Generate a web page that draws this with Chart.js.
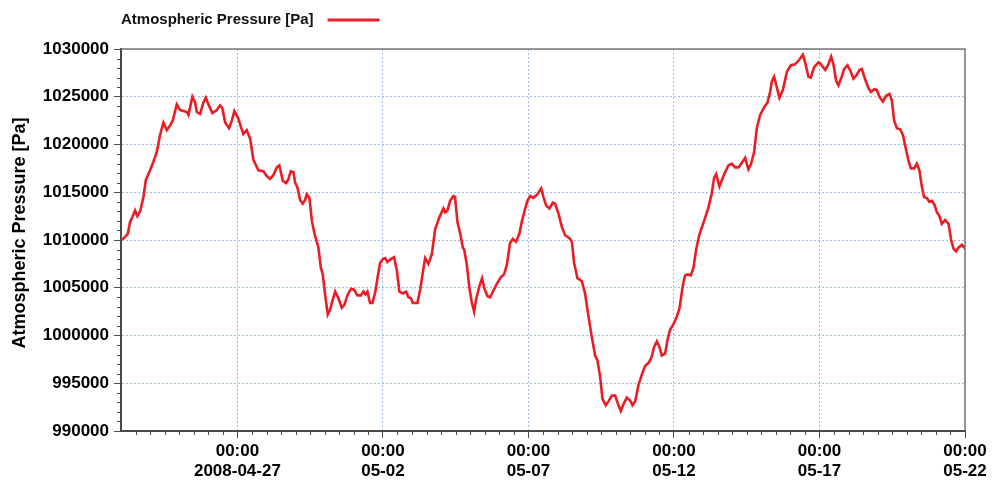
<!DOCTYPE html>
<html>
<head>
<meta charset="utf-8">
<script src="https://cdn.jsdelivr.net/npm/chart.js@4/dist/chart.umd.min.js"></script>
<style>
  html, body { margin: 0; padding: 0; background: #ffffff; }
  #wrap { width: 993px; height: 481px; }
</style>
</head>
<body>
<div id="wrap"><canvas id="c" width="993" height="481"></canvas></div>
<script>
// Hours elapsed since 2008-04-23 00:00
const hours = [
  0, 2, 5.6, 7.5, 9.4, 11.6, 13.5, 15.8, 18.5, 20.5, 24.0, 26.7, 29.5, 32.2, 35.0, 37.8, 40.5, 42.7,
  46.0, 48.7, 51.5, 54.3, 55.6, 58.9, 61.1, 62.5, 65.2, 68.0, 69.9, 72.1, 75.4, 79.0, 81.7, 83.6,
  85.9, 89.1, 91.4, 93.5, 96.8, 99.0, 100.9, 103.7, 106.5, 109.2, 113.3, 117.4, 120.2, 123.0, 125.7,
  128.5, 130.6, 133.4, 136.2, 138.1, 140.0, 142.2, 143.6, 145.5, 147.7, 149.9, 151.8, 153.2, 155.4,
  157.4, 159.5, 162.8, 164.8, 166.4, 168.3, 170.5, 172.4, 173.8, 176.6, 179.3, 182.1, 184.2, 187.0,
  189.8, 192.2, 195.0, 197.8, 199.9, 201.6, 203.2, 205.4, 207.3, 209.6, 211.5, 213.7, 215.9, 217.8,
  219.7, 222.5, 225.2, 227.5, 229.6, 232.4, 235.1, 237.0, 239.2, 240.6, 242.5, 244.4, 246.7, 248.9,
  250.8, 253.5, 256.3, 259.0, 262.6, 265.9, 267.3, 269.2, 271.4, 274.1, 275.5, 277.4, 279.7, 281.9,
  283.0, 285.2, 287.3, 289.3, 291.2, 292.9, 295.6, 297.8, 299.7, 302.2, 304.4, 307.1, 309.9, 313.2,
  315.9, 318.2, 320.9, 323.1, 325.8, 328.6, 330.5, 333.3, 335.2, 337.4, 340.1, 343.4, 346.5, 348.4,
  350.6, 353.3, 356.1, 358.0, 360.7, 363.5, 366.2, 369.8, 371.8, 373.7, 376.4, 380.0, 382.7, 385.5,
  388.3, 391.0, 392.9, 395.1, 397.0, 399.8, 402.0, 404.8, 407.5, 410.2, 412.2, 414.3, 417.1, 419.9,
  421.8, 424.0, 426.7, 429.5, 432.2, 435.5, 437.7, 439.6, 441.9, 444.0, 446.0, 448.7, 450.6, 452.8,
  455.6, 457.8, 460.5, 463.3, 465.2, 467.1, 469.9, 472.1, 474.3, 477.0, 480.3, 484.4, 487.2, 489.1,
  490.8, 493.5, 496.8, 500.9, 503.7, 506.4, 509.2, 512.0, 514.7, 517.4, 519.4, 522.1, 524.3, 527.1,
  530.4, 533.1, 535.3, 536.7, 538.6, 540.8, 543.0, 545.8, 549.1, 552.4, 555.9, 559.5, 562.3, 564.2,
  566.9, 568.9, 571.6, 575.2, 576.5, 580.7, 583.4, 585.6, 587.5, 589.7, 591.6, 594.4, 596.3, 599.1,
  601.9, 604.0, 606.2, 609.0, 610.9, 613.7, 616.4, 618.4, 621.1, 623.3, 625.5, 628.3, 631.0, 633.7,
  635.7, 637.6, 639.8, 642.5, 644.8, 647.5, 649.4, 651.4, 654.1, 656.3, 658.4, 660.4, 662.3, 664.5,
  666.7, 668.7, 670.8, 672.8, 674.9, 676.9, 679.6, 682.4, 684.6, 686.5, 688.7, 690.6, 693.4, 696
];

// Atmospheric pressure [Pa]
const pressure = [
  1010000, 1010150, 1010650, 1011900, 1012400, 1013100, 1012500, 1013000, 1014500, 1016300, 1017300,
  1018200, 1019200, 1021000, 1022300, 1021500, 1022000, 1022500, 1024200, 1023600, 1023500, 1023400,
  1023100, 1025000, 1024400, 1023400, 1023200, 1024400, 1024900, 1024200, 1023300, 1023600, 1024100,
  1023800, 1022300, 1021700, 1022500, 1023500, 1022700, 1021800, 1021100, 1021500, 1020600, 1018400,
  1017300, 1017200, 1016700, 1016400, 1016800, 1017600, 1017800, 1016200, 1015950, 1016400, 1017200,
  1017100, 1016000, 1015500, 1014200, 1013800, 1014200, 1014800, 1014400, 1012000, 1010700, 1009200,
  1007100, 1006400, 1004300, 1002200, 1002700, 1003400, 1004600, 1003900, 1002900, 1003200, 1004300,
  1004900, 1004800, 1004200, 1004200, 1004600, 1004300, 1004600, 1003400, 1003400, 1004500, 1006000,
  1007600, 1008000, 1008100, 1007700, 1008000, 1008200, 1006800, 1004600, 1004400, 1004600, 1004000,
  1003900, 1003400, 1003400, 1003400, 1004800, 1006600, 1008100, 1007500, 1008500, 1011100, 1012400,
  1013300, 1012900, 1013100, 1014100, 1014600, 1014500, 1011900, 1010700, 1009200, 1009000, 1007400,
  1005000, 1003450, 1002500, 1003800, 1005200, 1006000, 1004900, 1004100, 1004000, 1004700, 1005400,
  1006100, 1006400, 1007400, 1009700, 1010100, 1009800, 1010700, 1011900, 1013300, 1014100, 1014600,
  1014400, 1014800, 1015400, 1014500, 1013600, 1013300, 1013900, 1013800, 1012800, 1011400, 1010500,
  1010200, 1009800, 1007600, 1006000, 1005700, 1004400, 1002000, 999800, 997900, 997400, 995700,
  993400, 992700, 993100, 993700, 993700, 992700, 992100, 992800, 993500, 993200, 992700, 993100,
  994800, 995900, 996800, 997200, 997800, 998800, 999400, 998800, 997900, 998100, 999500, 1000600,
  1001200, 1001800, 1002800, 1005200, 1006300, 1006400, 1006300, 1007100, 1009000, 1010600, 1011800,
  1013400, 1014900, 1016500, 1016900, 1015600, 1016700, 1017800, 1018000, 1017600, 1017600, 1018100,
  1018600, 1017400, 1017900, 1019200, 1021700, 1023100, 1023900, 1024400, 1025500, 1026600, 1027100,
  1026000, 1024900, 1025700, 1027600, 1028300, 1028400, 1028900, 1029400, 1028600, 1027100, 1027000,
  1028100, 1028600, 1028500, 1027800, 1028400, 1029200, 1028400, 1026700, 1026200, 1027100, 1027900,
  1028300, 1027600, 1026900, 1027200, 1027800, 1027900, 1026800, 1025900, 1025500, 1025800, 1025700,
  1025000, 1024500, 1025100, 1025300, 1024600, 1022500, 1021700, 1021600, 1021000, 1019400, 1018300,
  1017500, 1017500, 1018000, 1017300, 1015600, 1014500, 1014400, 1014000, 1014100, 1013700, 1012900,
  1012500, 1011700, 1012100, 1011700, 1010000, 1009100, 1008800, 1009200, 1009500, 1009100
];

// Major time ticks (hours since start) and their two-line labels
const timeTicks = [96, 216, 336, 456, 576, 696];
const timeLabels = [
  ['00:00', '2008-04-27'],
  ['00:00', '05-02'],
  ['00:00', '05-07'],
  ['00:00', '05-12'],
  ['00:00', '05-17'],
  ['00:00', '05-22']
];

const seriesLabel = 'Atmospheric Pressure [Pa]';
const axisTitle = 'Atmospheric Pressure [Pa]';

const RED = '#ec1c24';
const AXIS = '#4a4a4a';
const GRID = '#9dbbe0';
const FONT = "'Liberation Sans', Arial, sans-serif";

const points = hours.map((h, i) => ({ x: h, y: pressure[i] }));

// Frame, minor ticks, axis title and legend entry
const decor = {
  id: 'decor',
  afterDraw(chart) {
    const { ctx, chartArea: a, scales } = chart;
    const xs = scales.x, ys = scales.y;
    ctx.save();
    // top and right frame
    ctx.strokeStyle = '#777777';
    ctx.lineWidth = 1.5;
    ctx.beginPath();
    ctx.moveTo(a.left, a.top);
    ctx.lineTo(a.right, a.top);
    ctx.lineTo(a.right, a.bottom);
    ctx.stroke();
    // minor ticks
    ctx.strokeStyle = AXIS;
    ctx.lineWidth = 1;
    ctx.beginPath();
    for (let h = 12; h < xs.max; h += 12) {
      if (timeTicks.includes(h)) continue;
      const px = Math.round(xs.getPixelForValue(h)) + 0.5;
      ctx.moveTo(px, a.bottom);
      ctx.lineTo(px, a.bottom + 4);
    }
    for (let v = ys.min + 1000; v < ys.max; v += 1000) {
      if (v % 5000 === 0) continue;
      const py = Math.round(ys.getPixelForValue(v)) + 0.5;
      ctx.moveTo(a.left - 4, py);
      ctx.lineTo(a.left, py);
    }
    ctx.stroke();
    // y-axis title
    ctx.save();
    ctx.translate(20, 233);
    ctx.rotate(-Math.PI / 2);
    ctx.font = 'bold 18px ' + FONT;
    ctx.fillStyle = '#000000';
    ctx.textAlign = 'center';
    ctx.textBaseline = 'middle';
    ctx.fillText(axisTitle, 0, 0);
    ctx.restore();
    // legend entry: label then line sample
    const ds = chart.data.datasets[0];
    ctx.font = 'bold 15px ' + FONT;
    ctx.fillStyle = '#111111';
    ctx.textAlign = 'left';
    ctx.textBaseline = 'middle';
    ctx.fillText(ds.label, 121, 20);
    const w = ctx.measureText(ds.label).width;
    ctx.strokeStyle = ds.borderColor;
    ctx.lineWidth = 3;
    ctx.beginPath();
    ctx.moveTo(121 + w + 14, 20);
    ctx.lineTo(121 + w + 66, 20);
    ctx.stroke();
    ctx.restore();
  }
};

new Chart(document.getElementById('c'), {
  type: 'line',
  data: {
    datasets: [{
      label: seriesLabel,
      data: points,
      borderColor: RED,
      backgroundColor: RED,
      borderWidth: 2.6,
      pointRadius: 0,
      tension: 0,
      fill: false
    }]
  },
  options: {
    responsive: false,
    animation: false,
    parsing: false,
    layout: { padding: { left: 0, top: 49, right: 28, bottom: 0 } },
    plugins: {
      legend: { display: false },
      tooltip: { enabled: false }
    },
    scales: {
      x: {
        type: 'linear',
        min: 0,
        max: 696,
        afterBuildTicks(scale) {
          scale.ticks = timeTicks.map(v => ({ value: v }));
        },
        afterFit(scale) { scale.height = 50; },
        ticks: {
          autoSkip: false,
          maxRotation: 0,
          padding: 3,
          color: '#000000',
          font: { family: FONT, size: 17, weight: 'bold', lineHeight: 1.2 },
          callback(value) {
            const i = timeTicks.indexOf(value);
            return i >= 0 ? timeLabels[i] : '';
          }
        },
        grid: {
          color: GRID,
          lineWidth: 1,
          drawTicks: true,
          tickLength: 7,
          tickColor: AXIS,
          tickWidth: 1
        },
        border: { display: true, color: AXIS, width: 2, dash: [2, 2] }
      },
      y: {
        type: 'linear',
        min: 990000,
        max: 1030000,
        afterFit(scale) { scale.width = 121; },
        ticks: {
          stepSize: 5000,
          padding: 5,
          color: '#000000',
          font: { family: FONT, size: 17, weight: 'bold' },
          callback: v => String(v)
        },
        grid: {
          color: GRID,
          lineWidth: 1,
          drawTicks: true,
          tickLength: 7,
          tickColor: AXIS,
          tickWidth: 1
        },
        border: { display: true, color: AXIS, width: 2, dash: [2, 2] }
      }
    }
  },
  plugins: [decor]
});
</script>
</body>
</html>
